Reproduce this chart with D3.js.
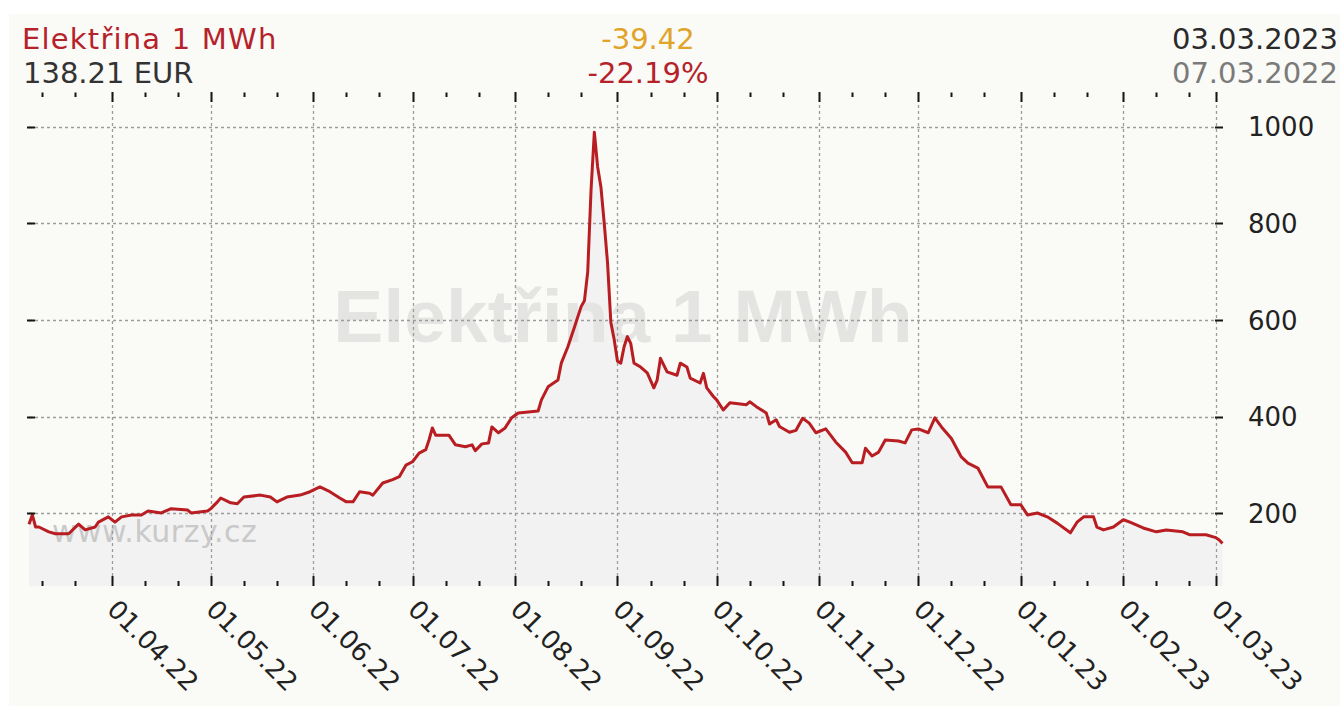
<!DOCTYPE html>
<html><head><meta charset="utf-8">
<script src="https://cdn.jsdelivr.net/npm/d3@7"></script>
<style>
html,body{margin:0;padding:0;background:#fff;}
svg{display:block;}
</style></head><body>
<svg id="c" width="1340" height="706"></svg>
<script>
// ---- data ----
const dates = ["2022-03-07","2022-03-08","2022-03-09","2022-03-10","2022-03-13","2022-03-15","2022-03-19","2022-03-22","2022-03-24","2022-03-27","2022-03-28","2022-03-31",
"2022-04-02","2022-04-04","2022-04-07","2022-04-10","2022-04-12","2022-04-16","2022-04-19","2022-04-24","2022-04-25","2022-04-30",
"2022-05-01","2022-05-03","2022-05-04","2022-05-07","2022-05-09","2022-05-11","2022-05-16","2022-05-19","2022-05-21","2022-05-24","2022-05-28","2022-05-31",
"2022-06-03","2022-06-06","2022-06-09","2022-06-11","2022-06-13","2022-06-15","2022-06-18","2022-06-19","2022-06-22","2022-06-25","2022-06-27","2022-06-29",
"2022-07-01","2022-07-03","2022-07-05","2022-07-06","2022-07-07","2022-07-08","2022-07-12","2022-07-14","2022-07-17","2022-07-19","2022-07-20","2022-07-22","2022-07-24","2022-07-25","2022-07-27","2022-07-29","2022-07-31",
"2022-08-02","2022-08-08","2022-08-09","2022-08-11","2022-08-14","2022-08-15","2022-08-17","2022-08-19","2022-08-21","2022-08-22","2022-08-23","2022-08-24","2022-08-25","2022-08-26","2022-08-27","2022-08-28","2022-08-29","2022-08-30","2022-08-31",
"2022-09-01","2022-09-02","2022-09-03","2022-09-04","2022-09-05","2022-09-06","2022-09-08","2022-09-10","2022-09-12","2022-09-13","2022-09-14","2022-09-16","2022-09-19","2022-09-20","2022-09-22","2022-09-23","2022-09-26","2022-09-27","2022-09-28","2022-09-30",
"2022-10-01","2022-10-03","2022-10-05","2022-10-10","2022-10-11","2022-10-13","2022-10-16","2022-10-17","2022-10-19","2022-10-20","2022-10-23","2022-10-25","2022-10-27","2022-10-29","2022-10-31",
"2022-11-03","2022-11-06","2022-11-09","2022-11-11","2022-11-14","2022-11-15","2022-11-17","2022-11-19","2022-11-21","2022-11-25","2022-11-27","2022-11-29",
"2022-12-01","2022-12-04","2022-12-06","2022-12-08","2022-12-11","2022-12-14","2022-12-16","2022-12-19","2022-12-22","2022-12-26","2022-12-29",
"2023-01-01","2023-01-03","2023-01-06","2023-01-09","2023-01-12","2023-01-16","2023-01-18","2023-01-20","2023-01-23","2023-01-24","2023-01-26","2023-01-29",
"2023-02-01","2023-02-03","2023-02-07","2023-02-11","2023-02-14","2023-02-19","2023-02-21","2023-02-26",
"2023-03-01","2023-03-02","2023-03-03"];
const values = [177.63,197,172,172,162,158,158,178,166,172,182,193,
182,193,197,197,205,201,210,207,201,205,
210,224,232,222,220,234,238,234,224,234,238,245,
255,245,232,224,224,245,242,238,263,270,276,300,
307,325,332,352,377,362,362,342,338,342,330,344,346,379,367,377,398,
408,412,435,462,476,511,545,586,628,640,700,869,989,917,875,800,718,595,560,
515,511,545,566,552,511,503,491,460,476,521,493,486,511,503,480,470,490,460,442,
435,414,429,425,431,421,408,385,394,380,368,372,397,387,367,
375,348,327,305,305,335,319,327,352,350,346,373,
375,367,398,379,355,317,304,294,255,255,218,
218,197,201,193,180,160,182,193,193,172,166,172,
187,182,170,162,166,162,156,156,
150,145,138.21];
const yTickValues = [200,400,600,800,1000];
const xTickDates = ["2022-04-01","2022-05-01","2022-06-01","2022-07-01","2022-08-01","2022-09-01","2022-10-01","2022-11-01","2022-12-01","2023-01-01","2023-02-01","2023-03-01"];
const minorTickDates = ["2022-03-11","2022-03-21","2022-04-11","2022-04-21","2022-05-11","2022-05-21","2022-06-11","2022-06-21","2022-07-11","2022-07-21","2022-08-11","2022-08-21","2022-09-11","2022-09-21","2022-10-11","2022-10-21","2022-11-11","2022-11-21","2022-12-11","2022-12-21","2023-01-11","2023-01-21","2023-02-11","2023-02-21"];
const titleText = "Elektřina 1 MWh";
const priceText = "138.21 EUR";
const changeText = "-39.42";
const changePctText = "-22.19%";
const dateToText = "03.03.2023";
const dateFromText = "07.03.2022";
const watermarkText = "www.kurzy.cz";

// ---- setup ----
const parse = d3.utcParse("%Y-%m-%d");
const fmt = d3.utcFormat("%d.%m.%y");
const data = dates.map((d,i)=>({date:parse(d), v:values[i]}));
const svg = d3.select("#c");
const FONT = "'DejaVu Sans', Verdana, sans-serif";
const plotTop = 93, plotBottom = 585;

const x = d3.scaleUtc().domain([parse("2022-03-07"), parse("2023-03-03")]).range([29, 1222.5]);
const y = d3.scaleLinear().domain([52, 1070]).range([plotBottom, plotTop]);

svg.append("rect").attr("x",9).attr("y",14).attr("width",1331).attr("height",692).attr("fill","#fafaf7");

// area
svg.append("path").datum(data)
  .attr("d", d3.area().x(d=>x(d.date)).y0(plotBottom+1).y1(d=>y(d.v)))
  .attr("fill","#f2f2f2");

// watermarks
svg.append("text").attr("x",623).attr("y",342).attr("text-anchor","middle")
  .attr("font-family","'Liberation Sans', Arial, sans-serif").attr("font-weight","bold")
  .attr("font-size",75).attr("fill","#e4e4e3").text(titleText);
svg.append("text").attr("x",52).attr("y",542)
  .attr("font-family",FONT).attr("font-size",30).attr("letter-spacing",0.5)
  .attr("fill","#c9c9c9").text(watermarkText);

// grid
const majors = xTickDates.map(parse);
const minors = minorTickDates.map(parse);
const px = d => Math.round(x(d))+0.5;
const py = d => Math.round(y(d))+0.5;
svg.append("g").selectAll("line").data(yTickValues).join("line")
  .attr("x1",29).attr("x2",px(majors[majors.length-1])).attr("y1",py).attr("y2",py)
  .attr("stroke","#9c9c9c").attr("stroke-width",1.3).attr("stroke-dasharray","3,3");
svg.append("g").selectAll("line").data(majors).join("line")
  .attr("x1",px).attr("x2",px).attr("y1",plotTop).attr("y2",plotBottom)
  .attr("stroke","#9c9c9c").attr("stroke-width",1.3).attr("stroke-dasharray","3,3");

// line
svg.append("path").datum(data)
  .attr("d", d3.line().x(d=>x(d.date)).y(d=>y(d.v)))
  .attr("fill","none").attr("stroke","#b81d22").attr("stroke-width",3).attr("stroke-linejoin","round");

// ticks
const tk = svg.append("g").attr("stroke","#151515").attr("stroke-width",2);
tk.append("g").selectAll("line").data(majors).join("line").attr("x1",px).attr("x2",px).attr("y1",92).attr("y2",102);
tk.append("g").selectAll("line").data(minors).join("line").attr("x1",px).attr("x2",px).attr("y1",92.5).attr("y2",97);
tk.append("g").selectAll("line").data(majors).join("line").attr("x1",px).attr("x2",px).attr("y1",576).attr("y2",586);
tk.append("g").selectAll("line").data(minors).join("line").attr("x1",px).attr("x2",px).attr("y1",581).attr("y2",586);
tk.append("g").selectAll("line").data(yTickValues).join("line").attr("x1",27).attr("x2",35).attr("y1",py).attr("y2",py);
tk.append("g").selectAll("line").data(yTickValues).join("line").attr("x1",1215).attr("x2",1223).attr("y1",py).attr("y2",py);

// y labels
svg.append("g").selectAll("text").data(yTickValues).join("text")
  .attr("x",1248).attr("y",d=>y(d)).attr("dy","0.36em")
  .attr("font-family",FONT).attr("font-size",26).attr("fill","#222").text(d=>d);

// x labels
svg.append("g").selectAll("text").data(majors).join("text")
  .attr("transform",d=>`translate(${x(d)-6},611) rotate(45)`)
  .attr("font-family",FONT).attr("font-size",26).attr("fill","#222").text(d=>fmt(d));

// header
const hdr = svg.append("g").attr("font-family",FONT).attr("font-size",29);
hdr.append("text").attr("x",22).attr("y",49).attr("fill","#b5222a").attr("letter-spacing",1.2).text(titleText);
hdr.append("text").attr("x",23).attr("y",83).attr("fill","#333").text(priceText);
hdr.append("text").attr("x",648).attr("y",49).attr("text-anchor","middle").attr("fill","#e0a428").text(changeText);
hdr.append("text").attr("x",648).attr("y",83).attr("text-anchor","middle").attr("fill","#b5222a").text(changePctText);
hdr.append("text").attr("x",1338).attr("y",49).attr("text-anchor","end").attr("fill","#2a2a2a").text(dateToText);
hdr.append("text").attr("x",1338).attr("y",83).attr("text-anchor","end").attr("fill","#7a7a7a").text(dateFromText);
</script>
</body></html>
